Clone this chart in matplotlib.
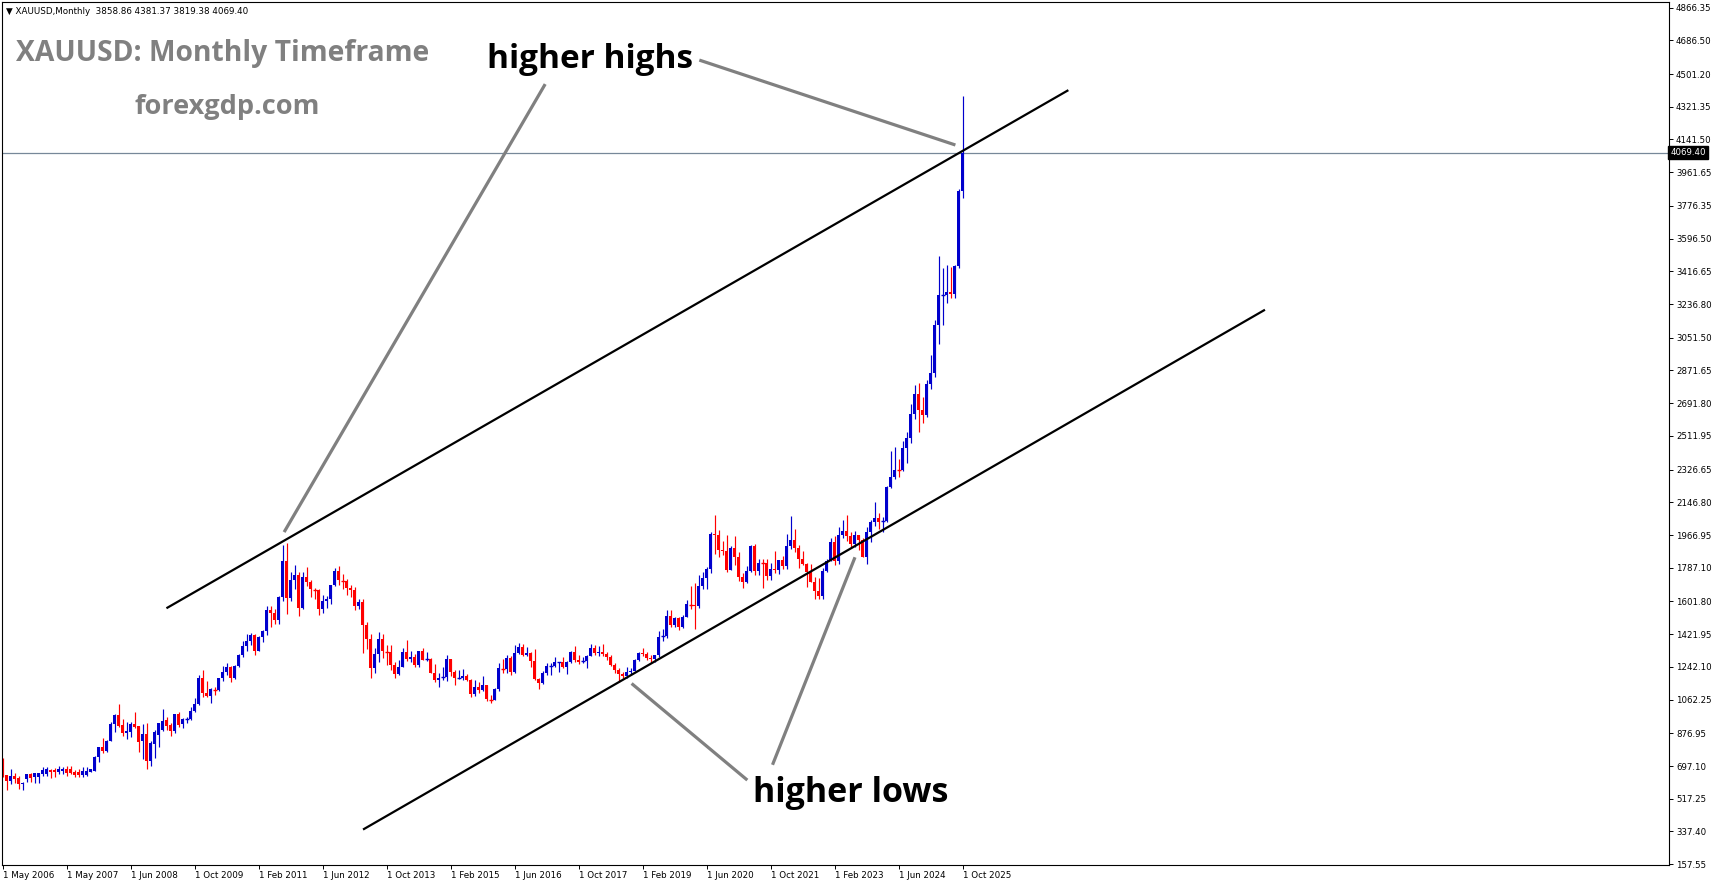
import matplotlib
matplotlib.use("Agg")
import matplotlib.pyplot as plt
import matplotlib.transforms as mtransforms

# ---- data: XAUUSD monthly candles (bar 0 = left edge, bar 240 = Oct 2025) ----
opens = [
    657, 648, 617, 642, 631, 598, 626, 652, 637, 639, 653, 653,
    675, 677, 664, 670, 679, 679, 664, 666, 648, 648, 666, 672,
    745, 802, 780, 835, 928, 978, 923, 881, 882, 928, 917, 837,
    873, 727, 816, 868, 895, 950, 923, 890, 983,
    926, 954, 955, 1001, 1040, 1181,                                    # 2009 H2
    1096, 1081, 1118, 1113, 1179, 1212, 1244, 1181, 1247, 1307, 1357, 1384,  # 2010
    1420, 1332, 1409, 1439, 1556, 1536, 1500, 1628, 1826, 1620, 1722, 1746,  # 2011
    1565, 1738, 1710, 1668, 1664, 1560, 1604, 1614, 1692, 1772, 1719, 1714,  # 2012
    1675, 1663, 1578, 1597, 1472, 1393, 1234, 1312, 1396, 1327, 1323, 1250,  # 2013
    1202, 1240, 1326, 1284, 1296, 1250, 1327, 1282, 1287, 1210, 1171, 1182,  # 2014
    1184, 1283, 1213, 1183, 1183, 1190, 1172, 1095, 1134, 1115, 1142, 1065,  # 2015
    1061, 1118, 1238, 1233, 1293, 1215, 1321, 1351, 1309, 1316, 1277, 1173,  # 2016
    1151, 1211, 1249, 1249, 1268, 1268, 1242, 1269, 1322, 1280, 1271, 1275,  # 2017
    1303, 1345, 1318, 1325, 1315, 1299, 1253, 1224, 1201, 1192, 1215, 1222,  # 2018
    1282, 1321, 1313, 1292, 1284, 1305, 1409, 1413, 1520, 1472, 1513, 1464,  # 2019
    1517, 1589, 1585, 1577, 1686, 1730, 1781, 1975, 1968, 1886, 1879, 1776,  # 2020
    1898, 1847, 1734, 1708, 1769, 1906, 1770, 1814, 1813, 1743, 1783, 1774,  # 2021
    1829, 1797, 1909, 1937, 1897, 1837, 1807, 1766, 1711, 1661, 1633, 1768,  # 2022
    1824, 1928, 1827, 1969, 1990, 1962, 1919, 1965, 1940, 1849, 1983, 2036,  # 2023
    2063, 2039, 2044, 2230, 2286, 2327, 2326, 2447, 2503, 2635, 2744, 2654,  # 2024
    2625, 2798, 2858, 3124, 3288, 3289, 3303, 3290, 3448, 3859,              # 2025
]
highs = [
    740, 650, 679, 661, 642, 611, 652, 657, 657, 661, 694, 690,
    679, 685, 697, 690, 697, 697, 675, 679, 694, 690, 679, 752,
    804, 851, 840, 941, 983, 1038, 956, 939, 937, 994, 917, 928,
    932, 837, 895, 932, 1011, 969, 932, 983, 996,
    960, 966, 1024, 1070, 1195, 1227,
    1162, 1128, 1134, 1181, 1249, 1265, 1245, 1250, 1315, 1387, 1424, 1431,
    1424, 1413, 1447, 1575, 1577, 1561, 1633, 1913, 1921, 1764, 1803, 1764,
    1764, 1791, 1718, 1677, 1669, 1640, 1630, 1693, 1788, 1796, 1755, 1724,
    1694, 1683, 1617, 1616, 1488, 1424, 1348, 1434, 1424, 1361, 1361, 1267,
    1280, 1345, 1392, 1331, 1315, 1332, 1345, 1322, 1292, 1256, 1208, 1239,
    1308, 1285, 1224, 1224, 1232, 1205, 1175, 1170, 1157, 1191, 1143, 1088,
    1126, 1263, 1283, 1305, 1303, 1362, 1375, 1367, 1352, 1326, 1338, 1180,
    1220, 1264, 1261, 1295, 1271, 1296, 1275, 1331, 1357, 1306, 1299, 1307,
    1366, 1362, 1356, 1366, 1326, 1309, 1265, 1235, 1214, 1243, 1237, 1284,
    1326, 1346, 1324, 1310, 1306, 1439, 1453, 1555, 1557, 1518, 1516, 1525,
    1611, 1689, 1704, 1747, 1765, 1789, 1984, 2075, 1992, 1933, 1966, 1906,
    1959, 1872, 1756, 1798, 1913, 1917, 1833, 1833, 1835, 1814, 1877, 1831,
    1853, 1975, 2070, 1998, 1910, 1879, 1814, 1808, 1735, 1729, 1786, 1833,
    1949, 1960, 2010, 2049, 2079, 1984, 1987, 1967, 1953, 2009, 2052, 2146,
    2088, 2065, 2236, 2431, 2450, 2387, 2484, 2531, 2685, 2790, 2801, 2726,
    2817, 2956, 3148, 3500, 3435, 3452, 3439, 3453, 3871, 4381,
]
lows = [
    639, 565, 598, 606, 573, 565, 611, 611, 602, 602, 642, 642,
    633, 639, 653, 655, 642, 653, 635, 639, 639, 642, 663, 670,
    721, 767, 776, 835, 886, 910, 862, 848, 859, 904, 776, 736,
    681, 699, 741, 804, 892, 895, 862, 881, 910,
    908, 933, 952, 992, 1033, 1075,
    1074, 1044, 1088, 1110, 1165, 1199, 1157, 1178, 1243, 1299, 1331, 1360,
    1308, 1327, 1381, 1419, 1462, 1478, 1478, 1603, 1534, 1604, 1672, 1523,
    1563, 1687, 1627, 1613, 1527, 1540, 1564, 1590, 1688, 1692, 1672, 1635,
    1626, 1555, 1562, 1321, 1338, 1180, 1207, 1270, 1292, 1251, 1226, 1182,
    1200, 1239, 1277, 1268, 1240, 1241, 1280, 1272, 1206, 1160, 1131, 1170,
    1167, 1192, 1142, 1175, 1169, 1162, 1077, 1080, 1098, 1108, 1053, 1046,
    1061, 1108, 1207, 1208, 1200, 1207, 1311, 1301, 1302, 1241, 1171, 1122,
    1146, 1200, 1195, 1241, 1214, 1236, 1205, 1262, 1271, 1260, 1264, 1236,
    1302, 1307, 1303, 1302, 1282, 1246, 1211, 1160, 1180, 1182, 1196, 1221,
    1276, 1303, 1281, 1266, 1267, 1296, 1382, 1400, 1459, 1459, 1445, 1454,
    1517, 1563, 1451, 1568, 1670, 1671, 1757, 1863, 1849, 1860, 1764, 1776,
    1802, 1717, 1677, 1704, 1765, 1750, 1750, 1677, 1721, 1722, 1758, 1753,
    1780, 1782, 1890, 1872, 1787, 1805, 1681, 1709, 1615, 1617, 1617, 1765,
    1823, 1804, 1810, 1950, 1932, 1893, 1903, 1884, 1846, 1810, 1931, 2016,
    2002, 1985, 2039, 2228, 2277, 2286, 2318, 2364, 2471, 2604, 2536, 2583,
    2614, 2772, 2833, 3015, 3121, 3245, 3268, 3268, 3436, 3819,
]
closes = [
    645, 617, 642, 628, 598, 606, 652, 632, 657, 657, 675, 679,
    664, 666, 679, 682, 661, 657, 646, 648, 668, 670, 679, 749,
    800, 782, 835, 928, 978, 919, 881, 892, 928, 910, 831, 873,
    727, 826, 884, 932, 945, 917, 890, 983, 923,
    954, 955, 1001, 1040, 1181, 1096,
    1081, 1118, 1113, 1179, 1212, 1244, 1181, 1247, 1307, 1357, 1384, 1420,
    1332, 1409, 1439, 1556, 1536, 1500, 1628, 1826, 1620, 1722, 1746, 1565,
    1738, 1710, 1668, 1664, 1560, 1604, 1614, 1692, 1772, 1719, 1714, 1675,
    1663, 1578, 1597, 1472, 1393, 1234, 1312, 1396, 1327, 1323, 1250, 1202,
    1240, 1326, 1284, 1296, 1250, 1327, 1282, 1287, 1210, 1171, 1182, 1184,
    1283, 1213, 1183, 1183, 1190, 1172, 1095, 1134, 1115, 1142, 1065, 1061,
    1118, 1238, 1233, 1293, 1215, 1321, 1351, 1309, 1316, 1277, 1173, 1151,
    1211, 1249, 1249, 1268, 1268, 1242, 1269, 1322, 1280, 1271, 1275, 1303,
    1345, 1318, 1325, 1315, 1299, 1253, 1224, 1201, 1192, 1215, 1222, 1282,
    1321, 1313, 1292, 1284, 1305, 1409, 1413, 1520, 1472, 1513, 1464, 1517,
    1589, 1585, 1577, 1686, 1730, 1781, 1975, 1968, 1886, 1879, 1776, 1898,
    1847, 1734, 1708, 1769, 1906, 1770, 1814, 1813, 1743, 1783, 1774, 1829,
    1797, 1909, 1937, 1897, 1837, 1807, 1766, 1711, 1661, 1633, 1768, 1824,
    1928, 1827, 1969, 1990, 1962, 1919, 1965, 1940, 1849, 1983, 2036, 2063,
    2039, 2044, 2230, 2286, 2327, 2326, 2447, 2503, 2635, 2744, 2654, 2625,
    2798, 2858, 3124, 3288, 3289, 3303, 3290, 3448, 3859, 4069.40,
]

price_ticks = [4866.35, 4686.50, 4501.20, 4321.35, 4141.50, 3961.65, 3776.35,
               3596.50, 3416.65, 3236.80, 3051.50, 2871.65, 2691.80, 2511.95,
               2326.65, 2146.80, 1966.95, 1787.10, 1601.80, 1421.95, 1242.10,
               1062.25, 876.95, 697.10, 517.25, 337.40, 157.55]
date_labels = ["1 May 2006", "1 May 2007", "1 Jun 2008", "1 Oct 2009", "1 Feb 2011",
               "1 Jun 2012", "1 Oct 2013", "1 Feb 2015", "1 Jun 2016", "1 Oct 2017",
               "1 Feb 2019", "1 Jun 2020", "1 Oct 2021", "1 Feb 2023", "1 Jun 2024",
               "1 Oct 2025"]
date_bars = [0, 16, 32, 48, 64, 80, 96, 112, 128, 144, 160, 176, 192, 208, 224, 240]
last_price = 4069.40

# channel lines and arrows (bar index, price)
upper_line = ([41.1, 266.1], [1567.6, 4409.5])
lower_line = ([90.25, 315.25], [351.1, 3202.4])
arrows = [([135.55, 70.28], [4445.8, 1983.2]),
          ([174.08, 238.1], [4577.8, 4111.0]),
          ([186.08, 157.15], [619.9, 1150.9]),
          ([192.38, 213.0], [704.0, 1844.7])]

W, H = 1714, 888
BULL = "#0000CD"
BEAR = "#FF0000"

fig = plt.figure(figsize=(W / 100, H / 100), dpi=100)
ax = fig.add_axes([2 / W, 1 - 865 / H, (1669 - 2) / W, (865 - 2) / H])
ax.set_xlim(-0.25, 416.5)
ax.set_ylim(153.2, 4897.1)

# candles
for i in range(len(closes)):
    o, h, l, c = opens[i], highs[i], lows[i], closes[i]
    col = BULL if c >= o else BEAR
    ax.vlines(i, l, h, color=col, lw=0.85, zorder=2)
    body = abs(c - o)
    if body < 6:
        ax.hlines(c, i - 0.45, i + 0.45, color=col, lw=1.0, zorder=2)
    else:
        ax.bar(i, body, bottom=min(o, c), width=0.75, color=col, lw=0, zorder=2)

# current price line
ax.axhline(last_price, color="#778899", lw=0.9, zorder=1)

# channel
ax.plot(*upper_line, color="black", lw=1.6, zorder=3)
ax.plot(*lower_line, color="black", lw=1.6, zorder=3)
for xs, ys in arrows:
    ax.plot(xs, ys, color="#808080", lw=2.3, zorder=3, solid_capstyle="butt")

ax.text(146.75, 4580, "higher highs", fontsize=24, fontweight="bold",
        family="Open Sans", ha="center", va="center", color="black")
ax.text(211.9, 550, "higher lows", fontsize=24.5, fontweight="bold",
        family="Open Sans", ha="center", va="center", color="black")

# axes look (MT4 style)
for s in ax.spines.values():
    s.set_color("black")
    s.set_linewidth(0.8)
ax.yaxis.tick_right()
ax.set_yticks(price_ticks)
ax.set_yticklabels([f"{v:.2f}" for v in price_ticks], fontsize=6.2)
ax.set_xticks(date_bars)
ax.set_xticklabels(date_labels, fontsize=6.3, ha="left")
ax.tick_params(axis="y", direction="out", length=3, width=0.7, pad=2)
ax.tick_params(axis="x", direction="out", length=3, width=0.7, pad=1)

trans = mtransforms.blended_transform_factory(ax.transAxes, ax.transData)
ax.text(1.0008, last_price, "4069.40", transform=trans, fontsize=6.2, color="white",
        ha="left", va="center",
        bbox=dict(boxstyle="square,pad=0.25", fc="black", ec="black"))

# header texts
fig.text(6 / W, 1 - 11 / H, "\u25BC XAUUSD,Monthly  3858.86 4381.37 3819.38 4069.40",
         fontsize=6.3, ha="left", va="center", color="black")
fig.text(16 / W, 1 - 54 / H, "XAUUSD: Monthly Timeframe", fontsize=20.3,
         fontweight="bold", family="Open Sans", color="#808080", ha="left", va="center")
fig.text(227 / W, 1 - 107 / H, "forexgdp.com", fontsize=19.5,
         fontweight="bold", family="Open Sans", color="#808080", ha="center", va="center")

fig.savefig("out.png", dpi=100, facecolor="white")
